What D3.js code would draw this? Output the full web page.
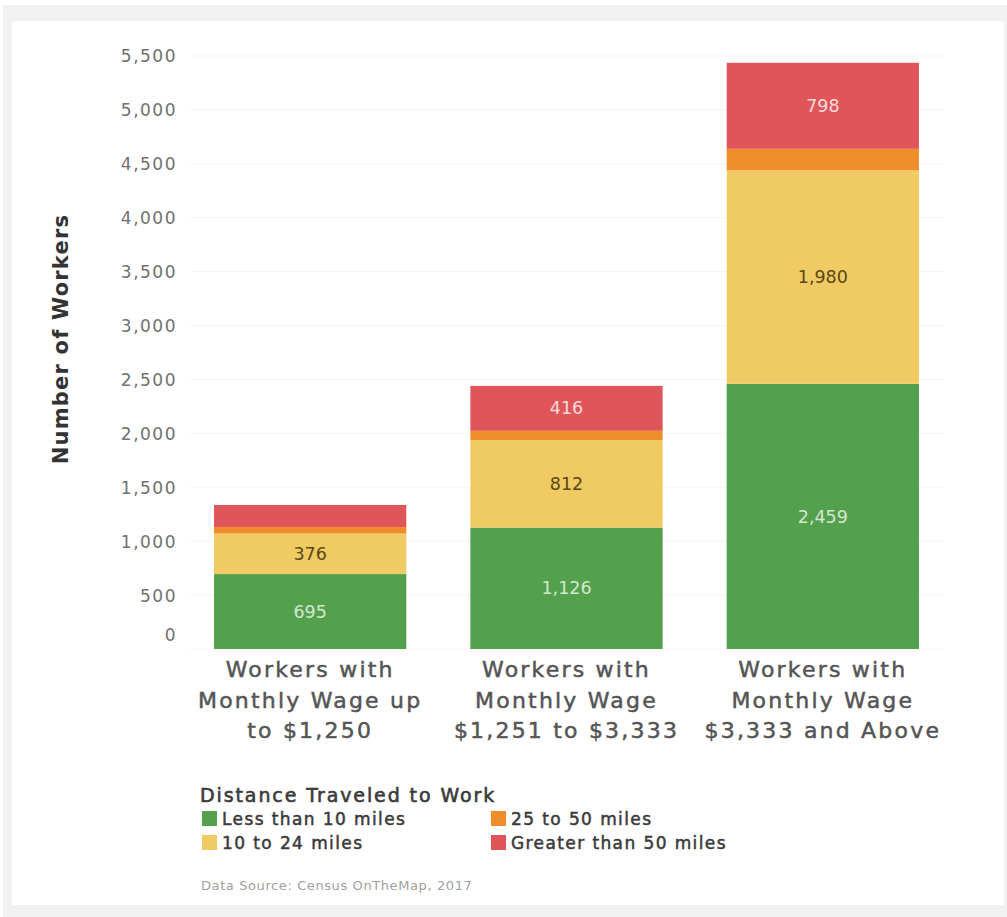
<!DOCTYPE html>
<html><head><meta charset="utf-8">
<script src="https://cdn.jsdelivr.net/npm/d3@7"></script>
<style>body{margin:0;background:#fff;}svg{display:block;font-family:"DejaVu Sans",sans-serif;}</style>
</head><body>
<svg id="chart" width="1007" height="917"></svg>
<script>
const categories = [
  ["Workers with", "Monthly Wage up", "to $1,250"],
  ["Workers with", "Monthly Wage", "$1,251 to $3,333"],
  ["Workers with", "Monthly Wage", "$3,333 and Above"]
];
const seriesNames = ["Less than 10 miles", "10 to 24 miles", "25 to 50 miles", "Greater than 50 miles"];
const lessThan10 = [695, 1126, 2459];
const from10to24 = [376, 812, 1980];
const from25to50 = [60, 86, 200];
const greaterThan50 = [205, 416, 798];
const showLabel = [[true, true, true],[true, true, true],[false,false,false],[false,true,true]];
const yTicks = [0,500,1000,1500,2000,2500,3000,3500,4000,4500,5000,5500];
const colors = ["#54a14d", "#f0cb63", "#f08d2b", "#e05559"];
const labelColors = ["rgba(255,255,255,0.75)", "#5a4716", "#fff", "rgba(255,255,255,0.8)"];

const svg = d3.select("#chart");
svg.append("rect").attr("x",3).attr("y",5).attr("width",1004).attr("height",912).attr("fill","#f1f1f1");
svg.append("rect").attr("x",12).attr("y",21).attr("width",992).attr("height",884).attr("fill","#fff");

const data = categories.map((c,i)=>({idx:i, s0:lessThan10[i], s1:from10to24[i], s2:from25to50[i], s3:greaterThan50[i]}));
const keys = ["s0","s1","s2","s3"];
const stack = d3.stack().keys(keys)(data);

const y = d3.scaleLinear().domain([0,5500]).range([649,56]);
const x = d3.scaleBand().domain([0,1,2]).range([182,951]).paddingInner(0.25).paddingOuter(0.125);

// gridlines
svg.append("g").selectAll("line").data(yTicks).join("line")
  .attr("x1",190).attr("x2",945).attr("y1",d=>y(d)).attr("y2",d=>y(d))
  .attr("stroke","#f5f5f5").attr("stroke-width",1);

// y axis
const yAxis = d3.axisLeft(y).tickValues(yTicks).tickFormat(d3.format(",")).tickSize(0).tickPadding(0);
const gy = svg.append("g").attr("transform","translate(177,0)").call(yAxis);
gy.select(".domain").remove();
gy.selectAll("text").attr("font-size",17).attr("fill","#707070").attr("letter-spacing","1.5px")
  .attr("font-family","DejaVu Sans").attr("dy","0.35em")
  .attr("transform", d => d===0 ? "translate(0,-14)" : null);

svg.append("text").attr("transform","translate(68,339) rotate(-90)")
  .attr("text-anchor","middle").attr("font-size",21).attr("font-weight","bold").attr("fill","#333")
  .attr("letter-spacing","1.2px")
  .text("Number of Workers");

// bars
const layers = svg.append("g").selectAll("g").data(stack).join("g").attr("fill",(d,i)=>colors[i]);
layers.selectAll("rect").data(d=>d).join("rect")
  .attr("x",d=>x(d.data.idx)).attr("width",x.bandwidth())
  .attr("y",d=>y(d[1])).attr("height",d=>y(d[0])-y(d[1]));

// segment labels
stack.forEach((layer,li)=>{
  svg.append("g").selectAll("text").data(layer.filter((d,i)=>showLabel[li][i])).join("text")
    .attr("x",d=>x(d.data.idx)+x.bandwidth()/2)
    .attr("y",d=>(y(d[0])+y(d[1]))/2)
    .attr("dy","0.35em").attr("text-anchor","middle").attr("font-size",17.5)
    .attr("fill",labelColors[li])
    .text(d=>d3.format(",")(d[1]-d[0]));
});

// x category labels
const xl = svg.append("g").selectAll("text").data(categories).join("text")
  .attr("x",(d,i)=>x(i)+x.bandwidth()/2).attr("y",677)
  .attr("text-anchor","middle").attr("font-size",22).attr("fill","#555")
  .attr("stroke","#555").attr("stroke-width",0.5).attr("letter-spacing","2.2px");
xl.selectAll("tspan").data(d=>d).join("tspan")
  .attr("x",function(){return this.parentNode.getAttribute("x");})
  .attr("dy",(d,i)=>i===0?0:30.5).text(d=>d);

// legend
svg.append("text").attr("x",200).attr("y",802).attr("font-size",19)
  .attr("fill","#3a3a3a").attr("stroke","#3a3a3a").attr("stroke-width",0.6).attr("letter-spacing","1.9px")
  .text("Distance Traveled to Work");
const legendPos = [[202,818],[202,842],[491,818],[491,842]];
const lg = svg.append("g").selectAll("g").data(seriesNames).join("g")
  .attr("transform",(d,i)=>`translate(${legendPos[i][0]},${legendPos[i][1]})`);
lg.append("rect").attr("x",0).attr("y",-7).attr("width",15).attr("height",15).attr("fill",(d,i)=>colors[i]);
lg.append("text").attr("x",20).attr("y",1).attr("dy","0.35em").attr("font-size",17)
  .attr("fill","#3a3a3a").attr("stroke","#3a3a3a").attr("stroke-width",0.5).attr("letter-spacing","1.4px")
  .text(d=>d);

svg.append("text").attr("x",201).attr("y",890).attr("font-size",13).attr("fill","#a0a0a0")
  .attr("letter-spacing","0.6px")
  .text("Data Source: Census OnTheMap, 2017");
</script>
</body></html>
